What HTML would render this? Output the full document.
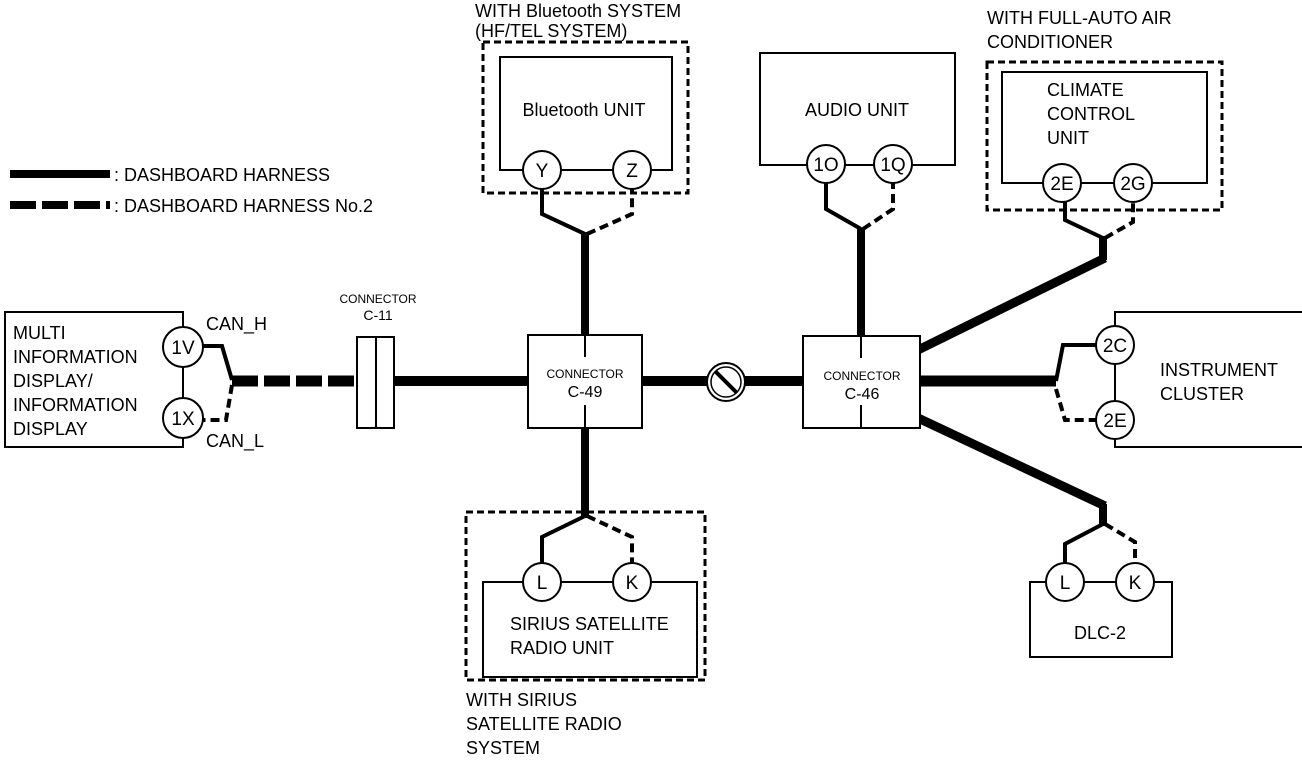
<!DOCTYPE html>
<html><head><meta charset="utf-8"><style>body{margin:0;background:#fff}svg{display:block}text{font-family:"Liberation Sans",Arial,sans-serif;fill:#000}</style></head><body>
<svg width="1302" height="762" viewBox="0 0 1302 762" xmlns="http://www.w3.org/2000/svg">
<g font-size="18">
<line x1="10" y1="174" x2="110" y2="174" stroke="#000" stroke-width="8"/>
<line x1="10" y1="205" x2="110" y2="205" stroke="#000" stroke-width="8" stroke-dasharray="26,6"/>
<text x="114" y="181">: DASHBOARD HARNESS</text>
<text x="114" y="212">: DASHBOARD HARNESS No.2</text>

<rect x="5" y="312" width="178" height="135" fill="#fff" stroke="#000" stroke-width="2"/>
<text x="13" y="339">MULTI</text><text x="13" y="363">INFORMATION</text><text x="13" y="387">DISPLAY/</text><text x="13" y="411">INFORMATION</text><text x="13" y="435">DISPLAY</text>
<circle cx="183" cy="347" r="20" fill="#fff" stroke="#000" stroke-width="2"/><text x="183" y="354" text-anchor="middle" font-size="19">1V</text>
<circle cx="183" cy="418" r="20" fill="#fff" stroke="#000" stroke-width="2"/><text x="183" y="425" text-anchor="middle" font-size="19">1X</text>
<text x="206" y="330">CAN_H</text><text x="206" y="447">CAN_L</text>
<polyline points="203,346 222,346 232,380" fill="none" stroke="#000" stroke-width="4"/>
<polyline points="232,385 226,420 203,420" fill="none" stroke="#000" stroke-width="4" stroke-dasharray="9,5"/>
<line x1="232" y1="381" x2="358" y2="381" stroke="#000" stroke-width="11" stroke-dasharray="26,6"/>
<text x="378" y="303" text-anchor="middle" font-size="12">CONNECTOR</text>
<text x="378" y="320" text-anchor="middle" font-size="14">C-11</text>
<rect x="357" y="337" width="37" height="91" fill="#fff" stroke="#000" stroke-width="2"/>
<line x1="376" y1="337" x2="376" y2="428" stroke="#000" stroke-width="2"/>
<line x1="394" y1="381" x2="528" y2="381" stroke="#000" stroke-width="10"/>

<rect x="528" y="335" width="114" height="93" fill="#fff" stroke="#000" stroke-width="2"/>
<line x1="585" y1="335" x2="585" y2="357" stroke="#000" stroke-width="2"/><line x1="585" y1="405" x2="585" y2="428" stroke="#000" stroke-width="2"/>
<text x="585" y="378" text-anchor="middle" font-size="12">CONNECTOR</text><text x="585" y="397" text-anchor="middle" font-size="16">C-49</text>
<line x1="642" y1="381" x2="803" y2="381" stroke="#000" stroke-width="10"/>
<circle cx="726" cy="382" r="19" fill="#fff" stroke="#000" stroke-width="2"/><circle cx="726" cy="382" r="15" fill="none" stroke="#000" stroke-width="1.5"/>
<line x1="715" y1="371" x2="737" y2="393" stroke="#000" stroke-width="4"/>

<text x="475" y="17">WITH Bluetooth SYSTEM</text><text x="475" y="37">(HF/TEL SYSTEM)</text>
<rect x="483" y="42" width="205" height="151" fill="none" stroke="#000" stroke-width="3" stroke-dasharray="7,4"/>
<rect x="500" y="57" width="172" height="113" fill="#fff" stroke="#000" stroke-width="2"/>
<text x="584" y="116" text-anchor="middle">Bluetooth UNIT</text>
<circle cx="542" cy="170" r="19" fill="#fff" stroke="#000" stroke-width="2"/><text x="542" y="177" text-anchor="middle" font-size="19">Y</text>
<circle cx="632" cy="170" r="19" fill="#fff" stroke="#000" stroke-width="2"/><text x="632" y="177" text-anchor="middle" font-size="19">Z</text>
<line x1="585" y1="335" x2="585" y2="232" stroke="#000" stroke-width="8"/>
<polyline points="585,234 542,214 542,189" fill="none" stroke="#000" stroke-width="4"/>
<polyline points="587,234 632,214 632,189" fill="none" stroke="#000" stroke-width="4" stroke-dasharray="9,5"/>

<line x1="585" y1="428" x2="585" y2="518" stroke="#000" stroke-width="8"/>
<polyline points="585,516 542,537 542,563" fill="none" stroke="#000" stroke-width="4"/>
<polyline points="587,516 632,537 632,563" fill="none" stroke="#000" stroke-width="4" stroke-dasharray="9,5"/>
<rect x="466" y="512" width="239" height="168" fill="none" stroke="#000" stroke-width="3" stroke-dasharray="7,4"/>
<rect x="483" y="582" width="214" height="95" fill="#fff" stroke="#000" stroke-width="2"/>
<circle cx="542" cy="582" r="19" fill="#fff" stroke="#000" stroke-width="2"/><text x="542" y="589" text-anchor="middle" font-size="19">L</text>
<circle cx="632" cy="582" r="19" fill="#fff" stroke="#000" stroke-width="2"/><text x="632" y="589" text-anchor="middle" font-size="19">K</text>
<text x="510" y="630">SIRIUS SATELLITE</text><text x="510" y="654">RADIO UNIT</text>
<text x="466" y="706">WITH SIRIUS</text><text x="466" y="730">SATELLITE RADIO</text><text x="466" y="754">SYSTEM</text>

<line x1="861" y1="336" x2="861" y2="228" stroke="#000" stroke-width="8"/>
<line x1="918" y1="350" x2="1105" y2="258" stroke="#000" stroke-width="9"/>
<line x1="918" y1="418" x2="1105" y2="506" stroke="#000" stroke-width="9"/>
<line x1="920" y1="381" x2="1056" y2="381" stroke="#000" stroke-width="11"/>
<rect x="803" y="336" width="117" height="92" fill="#fff" stroke="#000" stroke-width="2"/>
<line x1="861" y1="336" x2="861" y2="358" stroke="#000" stroke-width="2"/><line x1="861" y1="405" x2="861" y2="428" stroke="#000" stroke-width="2"/>
<text x="862" y="380" text-anchor="middle" font-size="12">CONNECTOR</text><text x="862" y="399" text-anchor="middle" font-size="16">C-46</text>

<rect x="760" y="53" width="195" height="112" fill="#fff" stroke="#000" stroke-width="2"/>
<text x="857" y="116" text-anchor="middle">AUDIO UNIT</text>
<circle cx="826" cy="164" r="19" fill="#fff" stroke="#000" stroke-width="2"/><text x="826" y="171" text-anchor="middle" font-size="19">1O</text>
<circle cx="893" cy="164" r="19" fill="#fff" stroke="#000" stroke-width="2"/><text x="893" y="171" text-anchor="middle" font-size="19">1Q</text>
<polyline points="861,229 826,209 826,183" fill="none" stroke="#000" stroke-width="4"/>
<polyline points="863,229 893,209 893,183" fill="none" stroke="#000" stroke-width="4" stroke-dasharray="9,5"/>

<text x="987" y="24">WITH FULL-AUTO AIR</text><text x="987" y="48">CONDITIONER</text>
<rect x="987" y="62" width="235" height="148" fill="none" stroke="#000" stroke-width="3" stroke-dasharray="7,4"/>
<rect x="1002" y="72" width="205" height="111" fill="#fff" stroke="#000" stroke-width="2"/>
<text x="1047" y="96">CLIMATE</text><text x="1047" y="120">CONTROL</text><text x="1047" y="144">UNIT</text>
<circle cx="1062" cy="183" r="19" fill="#fff" stroke="#000" stroke-width="2"/><text x="1062" y="190" text-anchor="middle" font-size="19">2E</text>
<circle cx="1133" cy="183" r="19" fill="#fff" stroke="#000" stroke-width="2"/><text x="1133" y="190" text-anchor="middle" font-size="19">2G</text>
<line x1="1103" y1="260" x2="1103" y2="236" stroke="#000" stroke-width="8"/>
<polyline points="1103,238 1065,220 1065,202" fill="none" stroke="#000" stroke-width="4"/>
<polyline points="1105,238 1133,222 1133,202" fill="none" stroke="#000" stroke-width="4" stroke-dasharray="9,5"/>

<rect x="1115" y="312" width="190" height="135" fill="#fff" stroke="#000" stroke-width="2"/>
<circle cx="1115" cy="345" r="19" fill="#fff" stroke="#000" stroke-width="2"/><text x="1115" y="352" text-anchor="middle" font-size="19">2C</text>
<circle cx="1115" cy="420" r="19" fill="#fff" stroke="#000" stroke-width="2"/><text x="1115" y="427" text-anchor="middle" font-size="19">2E</text>
<text x="1160" y="376">INSTRUMENT</text><text x="1160" y="400">CLUSTER</text>
<polyline points="1056,381 1063,345 1096,345" fill="none" stroke="#000" stroke-width="4"/>
<polyline points="1056,389 1065,420 1096,420" fill="none" stroke="#000" stroke-width="4" stroke-dasharray="9,5"/>

<line x1="1103" y1="504" x2="1103" y2="526" stroke="#000" stroke-width="8"/>
<polyline points="1103,524 1065,544 1065,563" fill="none" stroke="#000" stroke-width="4"/>
<polyline points="1105,524 1135,542 1135,563" fill="none" stroke="#000" stroke-width="4" stroke-dasharray="9,5"/>
<rect x="1030" y="582" width="142" height="75" fill="#fff" stroke="#000" stroke-width="2"/>
<circle cx="1065" cy="582" r="19" fill="#fff" stroke="#000" stroke-width="2"/><text x="1065" y="589" text-anchor="middle" font-size="19">L</text>
<circle cx="1135" cy="582" r="19" fill="#fff" stroke="#000" stroke-width="2"/><text x="1135" y="589" text-anchor="middle" font-size="19">K</text>
<text x="1100" y="639" text-anchor="middle">DLC-2</text>
</g>
</svg>
</body></html>
